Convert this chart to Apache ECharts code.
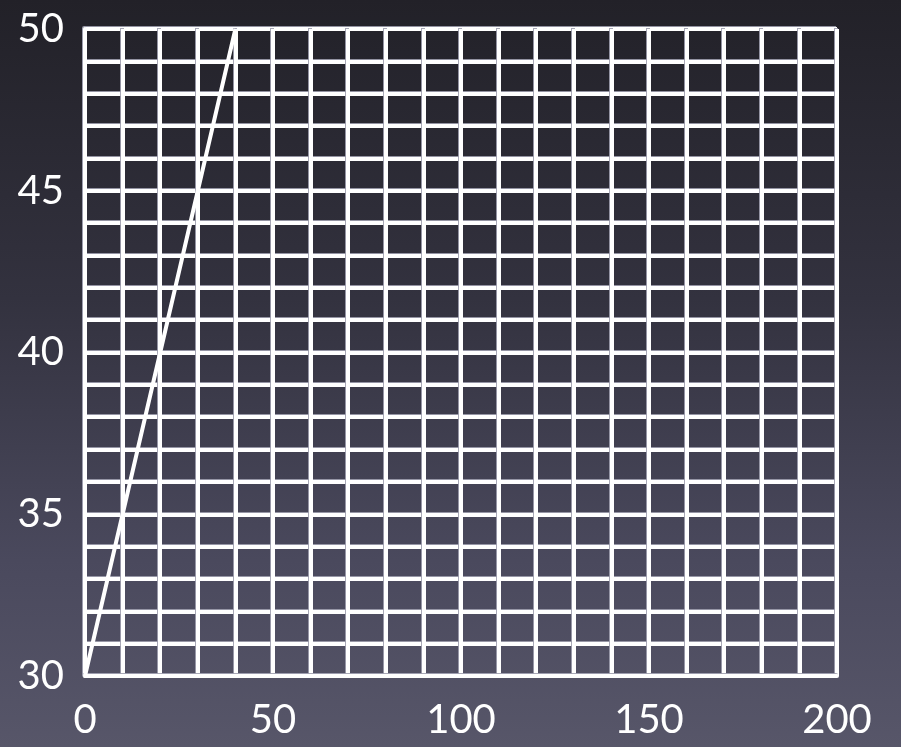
<!DOCTYPE html>
<html>
<head>
<meta charset="utf-8">
<script src="https://cdn.jsdelivr.net/npm/echarts@6/dist/echarts.min.js"></script>
<style>
html,body{margin:0;padding:0;}
#c{width:901px;height:747px;background:linear-gradient(180deg,#222128 0%,#33323f 40%,#4a495d 75%,#575669 100%);}
</style>
</head>
<body>
<div id="c"></div>
<script>
var xValues = [0, 10, 20, 30, 40];
var yValues = [30, 35, 40, 45, 50];
var xTicks = [0, 50, 100, 150, 200];
var yTicks = [30, 35, 40, 45, 50];

var chart = echarts.init(document.getElementById('c'), null, {renderer: 'canvas'});
var gridLine = {color: '#ffffff', width: 4, shadowColor: 'rgba(160,160,175,0.9)', shadowOffsetX: -1, shadowOffsetY: -1, shadowBlur: 0};
var labelFont = {color: '#ffffff', fontSize: 40, fontFamily: 'Lato, "Open Sans", sans-serif'};
chart.setOption({
  backgroundColor: 'transparent',
  animation: false,
  grid: {left: 85, right: 64, top: 29, bottom: 71, containLabel: false},
  xAxis: {
    type: 'value', min: 0, max: 200, interval: 10,
    axisLine: {show: true, lineStyle: gridLine},
    axisTick: {show: false},
    splitLine: {show: true, showMinLine: true, showMaxLine: true, lineStyle: gridLine},
    axisLabel: Object.assign({
      margin: 24,
      formatter: function (v) { return xTicks.indexOf(v) >= 0 ? String(v) : ''; },
      showMinLabel: true, showMaxLabel: true
    }, labelFont)
  },
  yAxis: {
    type: 'value', min: 30, max: 50, interval: 1,
    axisLine: {show: true, lineStyle: gridLine},
    axisTick: {show: false},
    splitLine: {show: true, showMinLine: true, showMaxLine: true, lineStyle: gridLine},
    axisLabel: Object.assign({
      margin: 21,
      padding: [8, 0, 0, 0],
      formatter: function (v) { return yTicks.indexOf(v) >= 0 ? String(v) : ''; },
      showMinLabel: true, showMaxLabel: true
    }, labelFont)
  },
  series: [{
    type: 'line',
    data: xValues.map(function (x, i) { return [x, yValues[i]]; }),
    symbol: 'none',
    clip: true,
    lineStyle: {color: '#ffffff', width: 4}
  }]
});
</script>
</body>
</html>
